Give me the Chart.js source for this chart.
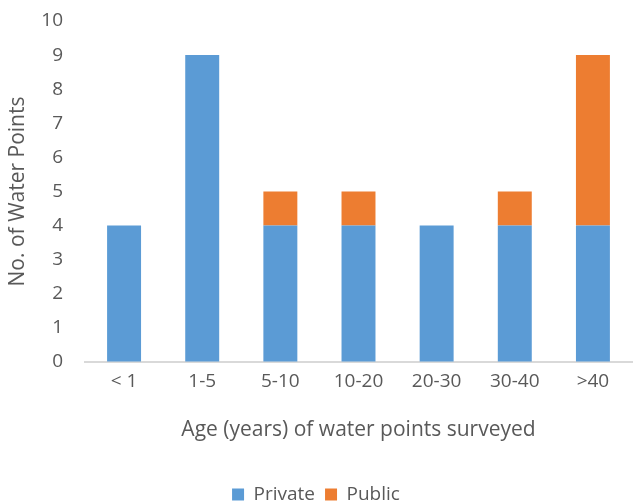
<!DOCTYPE html>
<html>
<head>
<meta charset="utf-8">
<script src="https://cdn.jsdelivr.net/npm/chart.js@4/dist/chart.umd.min.js"></script>
<style>
  html, body { margin: 0; padding: 0; background: #fff; }
  #wrap { width: 634px; height: 502px; }
</style>
</head>
<body>
<div id="wrap"><canvas id="c" width="634" height="502"></canvas></div>
<script>
const categories = ['< 1', '1-5', '5-10', '10-20', '20-30', '30-40', '>40'];
const privateCounts = [4, 9, 4, 4, 4, 4, 4];
const publicCounts = [0, 0, 1, 1, 0, 1, 5];
const yTicks = [0, 1, 2, 3, 4, 5, 6, 7, 8, 9, 10];

const FONT = "'Open Sans', 'Noto Sans', sans-serif";
const TEXT = '#595959';

new Chart(document.getElementById('c'), {
  type: 'bar',
  data: {
    labels: categories,
    datasets: [
      { label: 'Private', data: privateCounts, backgroundColor: '#5B9BD5', categoryPercentage: 0.82, barPercentage: 0.53 },
      { label: 'Public', data: publicCounts, backgroundColor: '#ED7D31', categoryPercentage: 0.82, barPercentage: 0.53 }
    ]
  },
  options: {
    responsive: false,
    animation: false,
    layout: { padding: { top: 21, right: 2, left: 0, bottom: -12 } },
    plugins: {
      tooltip: { enabled: false },
      legend: {
        position: 'bottom',
        labels: {
          font: { family: FONT, size: 19 },
          color: TEXT,
          boxWidth: 12,
          boxHeight: 12,
          padding: 10
        }
      }
    },
    scales: {
      x: {
        stacked: true,
        grid: { display: false, drawTicks: false },
        border: { display: true, color: '#D9D9D9', width: 2 },
        ticks: { font: { family: FONT, size: 19 }, color: TEXT, padding: 8 },
        title: {
          display: true,
          text: 'Age (years) of water points surveyed',
          font: { family: FONT, size: 21 },
          color: TEXT,
          padding: { top: 8, bottom: 32 }
        },
        afterFit: (s) => { s.height = 113; }
      },
      y: {
        stacked: true,
        min: 0,
        max: 10,
        afterBuildTicks: (s) => { s.ticks = yTicks.map(v => ({ value: v })); },
        // invisible tick marks provide the gap between labels and bars
        grid: { display: true, drawOnChartArea: false, drawTicks: true, tickLength: 22, color: 'rgba(0,0,0,0)' },
        border: { display: false },
        ticks: { font: { family: FONT, size: 19 }, color: TEXT, padding: 0 },
        title: {
          display: true,
          text: 'No. of Water Points',
          font: { family: FONT, size: 21 },
          color: TEXT,
          padding: { top: 5, bottom: 0 }
        },
        afterFit: (s) => { s.width = 85; }
      }
    }
  }
});
</script>
</body>
</html>
